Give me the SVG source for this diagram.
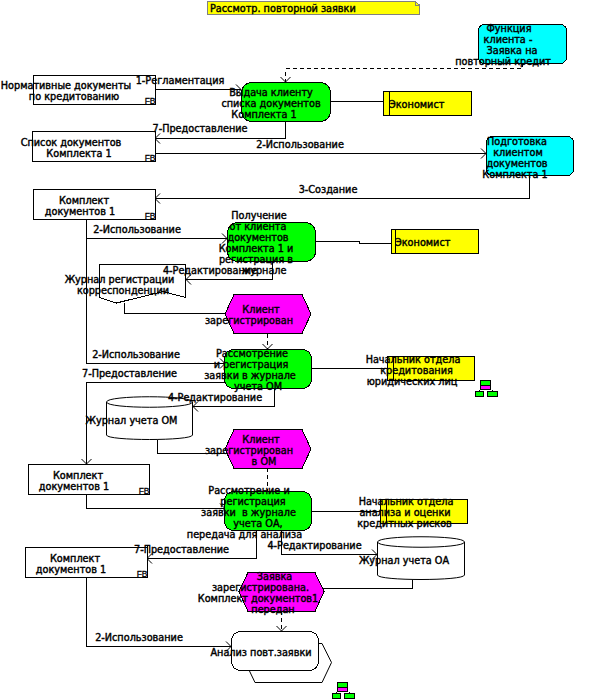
<svg xmlns="http://www.w3.org/2000/svg" width="589" height="699" viewBox="0 0 589 699">
<style>
text{font-family:"DejaVu Sans","Liberation Sans",sans-serif;font-size:9.7px;font-weight:400;fill:#000;text-anchor:middle;stroke:#000;stroke-width:.42}
.l{text-anchor:start}
.fb{font-family:"Liberation Sans",sans-serif;font-size:8.500px;font-weight:400;stroke:#000;stroke-width:.3;text-anchor:end;letter-spacing:-.3px}
.s{stroke:#000;stroke-width:1;shape-rendering:crispEdges}
.w{fill:#fff}.g{fill:#0f0}.c{fill:#0ff}.y{fill:#ff0}.m{fill:#f0f}
.k{fill:none;stroke:#000;stroke-width:1;shape-rendering:crispEdges}
.a{marker-end:url(#arr)}
.d{stroke-dasharray:4 3}
</style>
<defs>
<marker id="arr" markerUnits="userSpaceOnUse" markerWidth="12" markerHeight="12" refX="10" refY="6" orient="auto" overflow="visible"><path d="M5 1 L10 6 L5 11" fill="none" stroke="#000" stroke-width="1"/></marker>
<g id="org">
<rect x="5.500" y="0.500" width="10" height="5" class="s g"/><rect x="5.500" y="5.500" width="10" height="4" class="s m"/>
<path d="M4.500 9.500V11M17.500 9.500V11" class="k"/>
<rect x="0.500" y="11.500" width="8" height="5" class="s g"/><rect x="12.500" y="11.500" width="10" height="5" class="s g"/>
</g>
</defs>

<g id="connectors">
<path class="k d a" d="M522 63V68.500H285.500V82"/>
<path class="k a" d="M155 89.500H241"/>
<path class="k a" d="M285.500 121V138.500H155"/>
<path class="k a" d="M155 153.500H486"/>
<path class="k a" d="M529.500 175V198.500H155"/>
<path class="k" d="M330 101.500H384"/>
<path class="k a" d="M86.500 219V238.500H227"/>
<path class="k a" d="M86.500 238V363.500H225"/>
<path class="k a" d="M272.500 261V279.500H186"/>
<path class="k" d="M315 241.500H359.500V243.500H392"/>
<path class="k" d="M124.500 303V313.500H226"/>
<path class="k d a" d="M267.500 334V349"/>
<path class="k" d="M312 368.500H388"/>
<path class="k a" d="M225 382.500H86.500V464"/>
<path class="k a" d="M274.500 388V406.500H193"/>
<path class="k" d="M157.500 439V453.500H226"/>
<path class="k d" d="M267.500 468V491"/>
<path class="k a" d="M86.500 494V508.500H225"/>
<path class="k" d="M312 511.500H381"/>
<path class="k a" d="M256.500 530V558.500H147"/>
<path class="k a" d="M281.500 530V554.500H377"/>
<path class="k" d="M412.500 579V588.500H323"/>
<path class="k d a" d="M281.500 611V631"/>
<path class="k a" d="M86.500 577V646.500H231"/>
<path class="k" d="M147.500 577V545"/>
</g>

<g id="title">
<path d="M207.500 1.500H415L419.500 5V14.500H207.500Z" fill="#ff0" stroke="#808080" shape-rendering="crispEdges"/>
<path d="M415 0.500V5H419.500" fill="none" stroke="#808080" shape-rendering="crispEdges"/>
<text class="l" x="210" y="12">Рассмотр. повторной заявки</text>
</g>

<g id="n-norm"><rect x="33.500" y="75.500" width="122" height="29" class="s w"/><text class="fb" x="155" y="104">FB</text>
<text x="66" y="89">Нормативные документы</text><text x="74" y="100">по кредитованию</text></g>

<g id="n-issue"><rect x="241.500" y="82.500" width="89" height="39" rx="10" class="s g"/>
<text x="271" y="96">Выдача клиенту</text><text x="271" y="107">списка документов</text><text x="264" y="118">Комплекта 1</text></g>

<g id="n-econ1"><rect x="383.500" y="91.500" width="88" height="24" class="s y"/><path d="M389.500 91.500V115.500" class="k"/><text class="l" x="389" y="108">Экономист</text></g>

<g id="n-func"><rect x="478.500" y="24.500" width="88" height="39" rx="6" class="s c"/>
<text x="509" y="32">Функция</text><text x="508" y="43">клиента -</text><text x="512" y="54">Заявка на</text><text x="503" y="65">повторный кредит</text></g>

<g id="n-list"><rect x="32.500" y="131.500" width="123" height="30" class="s w"/><text class="fb" x="155" y="161">FB</text>
<text x="71" y="146">Список документов</text><text x="79" y="157">Комплекта 1</text></g>

<g id="n-prep"><rect x="486.500" y="136.500" width="87" height="39" rx="6" class="s c"/>
<text x="517" y="145">Подготовка</text><text x="518" y="156">клиентом</text><text x="517" y="167">документов</text><text x="515" y="178">Комплекта 1</text></g>

<g id="n-set1"><rect x="33.500" y="189.500" width="122" height="30" class="s w"/><text class="fb" x="155" y="219">FB</text>
<text x="84" y="204">Комплект</text><text x="80" y="215">документов 1</text></g>

<g id="n-receive"><rect x="227.500" y="222.500" width="88" height="39" rx="10" class="s g"/>
<text x="259" y="219">Получение</text><text x="258" y="230">от клиента</text><text x="258" y="241">документов</text><text x="256" y="252">Комплекта 1 и</text><text x="256" y="263">регистрация в</text><text x="264" y="274">журнале</text></g>

<g id="n-econ2"><rect x="391.500" y="229.500" width="87" height="24" class="s y"/><path d="M395.500 229.500V253.500" class="k"/><text class="l" x="395" y="246">Экономист</text></g>

<g id="n-corr"><path d="M99.500 264.500H185.500V297.500L163 291.500L116.500 303L99.500 297.500Z" class="s w"/>
<text x="119.500" y="283">Журнал регистрации</text><text x="123" y="294">корреспонденции</text></g>

<g id="n-ev1"><path d="M225 314L234 294.500H302L311 314L302 333.500H234Z" class="s m"/>
<text x="261" y="313">Клиент</text><text x="249" y="324">зарегистрирован</text></g>

<g id="n-om"><rect x="224.500" y="349.500" width="87" height="39" rx="9" class="s g"/>
<text x="252" y="357">Рассмотрение</text><text x="251" y="368">и регистрация</text><text x="250" y="379">заявки в журнале</text><text x="258" y="390">учета ОМ</text></g>

<g id="n-head1"><rect x="387.500" y="356.500" width="87" height="24" class="s y"/><path d="M393.500 356.500V380.500" class="k"/>
<text x="413" y="363">Начальник отдела</text><text x="416.500" y="374">кредитования</text><text x="412" y="385">юридических лиц</text></g>
<use id="org1" href="#org" x="475" y="380"/>

<g id="n-jom"><path d="M106.500 402V435C106.500 441 192.500 441 192.500 435V402C192.500 395 106.500 395 106.500 402C106.500 409 192.500 409 192.500 402" class="w" stroke="#000"/>
<text x="131.500" y="424">Журнал учета ОМ</text></g>

<g id="n-ev2"><path d="M225 449L234 429.500H302L311 449L302 468.500H234Z" class="s m"/>
<text x="261" y="443">Клиент</text><text x="249" y="454">зарегистрирован</text><text x="264" y="465">в ОМ</text></g>

<g id="n-set2"><rect x="28.500" y="464.500" width="121" height="30" class="s w"/><text class="fb" x="149" y="494">FB</text>
<text x="78" y="479">Комплект</text><text x="74" y="490">документов 1</text></g>

<g id="n-oa"><rect x="224.500" y="491.500" width="87" height="39" rx="9" class="s g"/>
<text x="249" y="494">Рассмотрение и</text><text x="253" y="505">регистрация</text><text x="248.500" y="516" xml:space="preserve">заявки  в журнале</text><text x="258" y="527">учета ОА,</text><text x="244.500" y="538">передача для анализа</text></g>

<g id="n-head2"><rect x="380.500" y="499.500" width="87" height="24" class="s y"/><path d="M386.500 499.500V523.500" class="k"/>
<text x="406" y="505">Начальник отдела</text><text x="405" y="516">анализа и оценки</text><text x="404.500" y="527">кредитных рисков</text></g>

<g id="n-joa"><path d="M377.500 542V575C377.500 581 464.500 581 464.500 575V542C464.500 535 377.500 535 377.500 542C377.500 549 464.500 549 464.500 542" class="w" stroke="#000"/>
<text x="404" y="564">Журнал учета ОА</text></g>

<g id="n-set3"><rect x="25.500" y="547.500" width="122" height="30" class="s w"/><text class="fb" x="147" y="577">FB</text>
<text x="75" y="562">Комплект</text><text x="71" y="573">документов 1</text></g>

<g id="n-ev3"><path d="M239 591.500L248 572.500H315L324 591.500L315 611.500H248Z" class="s m"/>
<text x="274.500" y="580">Заявка</text><text x="260.500" y="591">зарегистрирована.</text><text x="258" y="602">Комплект документов1</text><text x="273" y="613">передан</text></g>

<g id="n-anal"><path d="M318.500 643.500H322L331.500 662.500L322 682.500H255L249 670" class="w" stroke="#000"/><rect x="231.500" y="631.500" width="87" height="39" rx="9" class="s w"/>
<text x="261" y="656">Анализ повт.заявки</text></g>
<use id="org2" href="#org" x="332" y="682"/>

<g id="labels">
<text x="180" y="84">1-Регламентация</text>
<text x="200" y="132">7-Предоставление</text>
<text x="300" y="148">2-Использование</text>
<text x="328" y="193">3-Создание</text>
<text x="137" y="233">2-Использование</text>
<text x="210" y="274">4-Редактирование</text>
<text x="136" y="358">2-Использование</text>
<text x="129.500" y="377">7-Предоставление</text>
<text x="215" y="401">4-Редактирование</text>
<text x="181.500" y="553">7-Предоставление</text>
<text x="314.500" y="549">4-Редактирование</text>
<text x="139" y="641">2-Использование</text>
</g>
</svg>
